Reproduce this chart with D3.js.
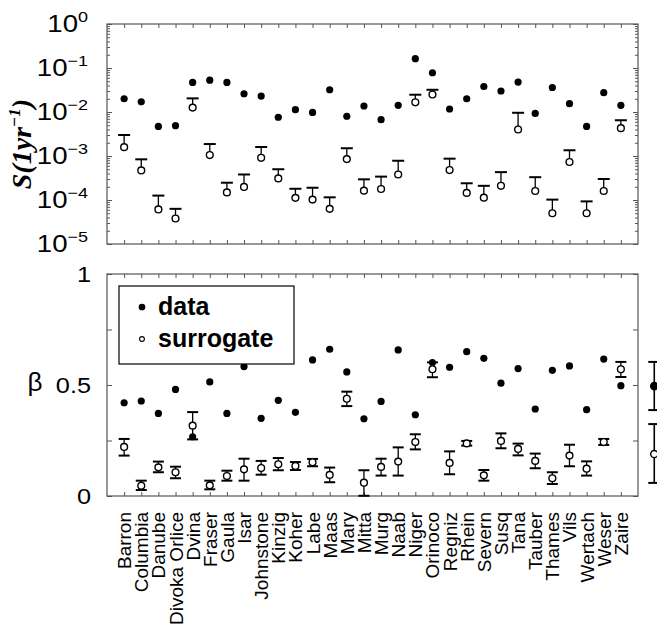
<!DOCTYPE html>
<html><head><meta charset="utf-8">
<script src="https://cdn.jsdelivr.net/npm/d3@7"></script>
<style>body{margin:0;background:#fff}svg{display:block}</style>
</head><body>
<script>
// ---------- data ----------
const rivers = ["Barron","Columbia","Danube","Divoka Orlice","Dvina","Fraser","Gaula","Isar","Johnstone","Kinzig","Koher","Labe","Maas","Mary","Mitta","Murg","Naab","Niger","Orinoco","Regniz","Rhein","Severn","Susq","Tana","Tauber","Thames","Vils","Wertach","Weser","Zaire"];
const sData = [0.020,0.017,0.0047,0.0049,0.047,0.053,0.047,0.026,0.023,0.0076,0.0113,0.0098,0.032,0.0080,0.0137,0.0067,0.0142,0.163,0.078,0.0117,0.020,0.038,0.030,0.048,0.0093,0.036,0.0155,0.0047,0.0275,0.0142];
const sSurr = [0.00159,0.00047,6.1e-5,3.8e-5,0.0126,0.00105,1.49e-4,1.98e-4,9.1e-4,3.1e-4,1.12e-4,1.02e-4,6.3e-5,8.5e-4,1.63e-4,1.78e-4,3.8e-4,0.0166,0.025,4.8e-4,1.45e-4,1.13e-4,2.1e-4,0.0040,1.6e-4,5.0e-5,7.3e-4,5.0e-5,1.6e-4,0.0043];
const sSurrUpper = [0.0030,0.00084,1.26e-4,6.3e-5,0.0204,0.00187,2.47e-4,3.8e-4,1.6e-3,5.0e-4,1.8e-4,1.9e-4,1.15e-4,1.5e-3,2.95e-4,3.4e-4,7.8e-4,0.0247,0.032,8.7e-4,2.4e-4,2.1e-4,4.3e-4,0.0096,3.3e-4,1.02e-4,1.35e-3,9.3e-5,3.0e-4,0.0065];
const betaData = [0.420,0.428,0.372,0.480,0.267,0.514,0.372,0.583,0.350,0.431,0.377,0.613,0.661,0.559,0.348,0.426,0.658,0.366,0.601,0.580,0.650,0.620,0.508,0.574,0.392,0.566,0.586,0.389,0.617,0.497];
const betaSurr = [0.221,0.046,0.129,0.107,0.317,0.048,0.090,0.120,0.126,0.143,0.135,0.152,0.095,0.438,0.060,0.131,0.155,0.243,0.571,0.149,0.237,0.093,0.248,0.212,0.158,0.080,0.182,0.123,0.243,0.571];
const betaSurrLow = [0.182,0.027,0.107,0.080,0.255,0.030,0.069,0.069,0.096,0.116,0.117,0.134,0.062,0.405,0.001,0.092,0.092,0.210,0.535,0.098,0.227,0.069,0.215,0.183,0.125,0.054,0.134,0.092,0.230,0.536];
const betaSurrHigh = [0.257,0.069,0.155,0.132,0.378,0.069,0.114,0.168,0.158,0.171,0.153,0.167,0.128,0.470,0.116,0.168,0.219,0.278,0.602,0.201,0.248,0.117,0.282,0.236,0.191,0.107,0.231,0.156,0.257,0.604];
const meanBeta = [{kind:"data", v:0.495, lo:0.387, hi:0.604},{kind:"surrogate", v:0.189, lo:0.059, hi:0.324}];
const sTickExps = [0,-1,-2,-3,-4,-5];
const betaTicks = [0,0.25,0.5,0.75,1];
const betaTickLabels = ["0","","0.5","","1"];
const legendLabels = ["data","surrogate"];

// ---------- layout ----------
const W = 657, H = 626;
const L = 107, R = 638;
const topT = 24, topB = 244, botT = 274, botB = 496;
const frameColor = "#555";

const svg = d3.select("body").append("svg").attr("width", W).attr("height", H)
  .style("font-family", "'Liberation Sans', Arial, sans-serif");

const x = d3.scaleLinear().domain([0, 31]).range([L, R]);
const yS = d3.scaleLog().domain([1e-5, 1]).range([topB, topT]);
const yB = d3.scaleLinear().domain([0, 1]).range([botB, botT]);
const idx = d3.range(1, 31);

function styleAxis(g){
  g.select(".domain").remove();
  g.selectAll(".tick line").attr("stroke", frameColor).attr("stroke-width", 1);
  g.selectAll(".tick text").remove();
}

// ---------- top panel ----------
const gTop = svg.append("g");
gTop.append("g").attr("transform", `translate(0,${topT})`).call(d3.axisTop(x).tickValues(idx).tickSize(-4).tickFormat("")).call(styleAxis);
gTop.append("g").attr("transform", `translate(0,${topB})`).call(d3.axisBottom(x).tickValues(idx).tickSize(-4).tickFormat("")).call(styleAxis);
const decades = sTickExps.map(e => Math.pow(10, e));
const minors = [];
for (let e = -5; e < 0; e++) for (let m = 2; m <= 9; m++) minors.push(m * Math.pow(10, e));
[[d3.axisLeft, L],[d3.axisRight, R]].forEach(([ax, px]) => {
  gTop.append("g").attr("transform", `translate(${px},0)`).call(ax(yS).tickValues(decades).tickSize(-5).tickFormat("")).call(styleAxis);
  gTop.append("g").attr("transform", `translate(${px},0)`).call(ax(yS).tickValues(minors).tickSize(-3).tickFormat("")).call(styleAxis);
});
gTop.append("rect").attr("x", L).attr("y", topT).attr("width", R - L).attr("height", topB - topT)
  .attr("fill", "none").attr("stroke", frameColor).attr("stroke-width", 1.2);

// y tick labels (10^n)
sTickExps.forEach(e => {
  const t = gTop.append("text").attr("x", 0).attr("y", 0)
    .attr("transform", `translate(88,${yS(Math.pow(10, e)) + 8}) scale(1.2,1)`)
    .attr("text-anchor", "end").attr("font-size", 23).attr("fill", "#000");
  t.append("tspan").text("10");
  t.append("tspan").attr("dy", -10).attr("font-size", 15).text(e === 0 ? "0" : "\u2212" + Math.abs(e));
});

// y label
const yl = svg.append("text").attr("transform", `translate(31,144) rotate(-90)`)
  .attr("text-anchor", "middle").attr("font-family", "'Liberation Serif', 'Times New Roman', serif")
  .attr("font-weight", "bold").attr("font-style", "italic").attr("font-size", 28).attr("fill", "#000");
yl.append("tspan").text("S(1yr");
yl.append("tspan").attr("dy", -11).attr("font-size", 17).text("\u22121");
yl.append("tspan").attr("dy", 11).text(")");

// surrogate error bars (upper only)
const capW = 12;
gTop.append("g").selectAll("line.stem").data(idx).join("line")
  .attr("x1", i => x(i)).attr("x2", i => x(i))
  .attr("y1", i => yS(sSurr[i-1])).attr("y2", i => yS(sSurrUpper[i-1]))
  .attr("stroke", "#000").attr("stroke-width", 1.3);
gTop.append("g").selectAll("line.cap").data(idx).join("line")
  .attr("x1", i => x(i) - capW/2).attr("x2", i => x(i) + capW/2)
  .attr("y1", i => yS(sSurrUpper[i-1])).attr("y2", i => yS(sSurrUpper[i-1]))
  .attr("stroke", "#000").attr("stroke-width", 2);
gTop.append("g").selectAll("circle").data(idx).join("circle")
  .attr("cx", i => x(i)).attr("cy", i => yS(sSurr[i-1])).attr("r", 3.4)
  .attr("fill", "#fff").attr("stroke", "#000").attr("stroke-width", 1.4);
gTop.append("g").selectAll("circle").data(idx).join("circle")
  .attr("cx", i => x(i)).attr("cy", i => yS(sData[i-1])).attr("r", 3.6).attr("fill", "#000");

// ---------- bottom panel ----------
const gBot = svg.append("g");
gBot.append("g").attr("transform", `translate(0,${botT})`).call(d3.axisTop(x).tickValues(idx).tickSize(-4).tickFormat("")).call(styleAxis);
gBot.append("g").attr("transform", `translate(0,${botB})`).call(d3.axisBottom(x).tickValues(idx).tickSize(-4).tickFormat("")).call(styleAxis);
gBot.append("g").attr("transform", `translate(${L},0)`).call(d3.axisLeft(yB).tickValues(betaTicks).tickSize(-5).tickFormat("")).call(styleAxis);
gBot.append("g").attr("transform", `translate(${R},0)`).call(d3.axisRight(yB).tickValues(betaTicks).tickSize(-5).tickFormat("")).call(styleAxis);
gBot.append("rect").attr("x", L).attr("y", botT).attr("width", R - L).attr("height", botB - botT)
  .attr("fill", "none").attr("stroke", frameColor).attr("stroke-width", 1.2);

betaTicks.forEach((v, k) => {
  if (!betaTickLabels[k]) return;
  gBot.append("text").attr("transform", `translate(91,${yB(v) + 8}) scale(1.15,1)`)
    .attr("text-anchor", "end").attr("font-size", 22).attr("fill", "#000").text(betaTickLabels[k]);
});
svg.append("text").attr("x", 35).attr("y", yB(0.5) + 6).attr("text-anchor", "middle")
  .attr("font-size", 26).attr("fill", "#000").text("\u03B2");

// x labels
gBot.append("g").selectAll("text").data(idx).join("text")
  .attr("transform", i => `translate(${x(i) + 7},512) rotate(-90)`)
  .attr("text-anchor", "end").attr("font-size", 19).attr("fill", "#000")
  .text(i => rivers[i-1]);

const capB = 11;
function errBar(g, cx, lo, hi){
  g.append("line").attr("x1", cx).attr("x2", cx).attr("y1", yB(lo)).attr("y2", yB(hi)).attr("stroke", "#000").attr("stroke-width", 1.3);
  [lo, hi].forEach(v => g.append("line").attr("x1", cx - capB/2).attr("x2", cx + capB/2).attr("y1", yB(v)).attr("y2", yB(v)).attr("stroke", "#000").attr("stroke-width", 2));
}
const gErr = gBot.append("g");
idx.forEach(i => errBar(gErr, x(i), betaSurrLow[i-1], betaSurrHigh[i-1]));
gBot.append("g").selectAll("circle").data(idx).join("circle")
  .attr("cx", i => x(i)).attr("cy", i => yB(betaData[i-1])).attr("r", 3.6).attr("fill", "#000");
gBot.append("g").selectAll("circle").data(idx).join("circle")
  .attr("cx", i => x(i)).attr("cy", i => yB(betaSurr[i-1])).attr("r", 3.4)
  .attr("fill", "#fff").attr("stroke", "#000").attr("stroke-width", 1.4);

// mean markers outside the frame
const gMean = gBot.append("g");
meanBeta.forEach(m => {
  const cx = x(31.95);
  gMean.append("line").attr("x1", cx).attr("x2", cx).attr("y1", yB(m.lo)).attr("y2", yB(m.hi)).attr("stroke", "#000").attr("stroke-width", 1.6);
  [m.lo, m.hi].forEach(v => gMean.append("line").attr("x1", cx - 6).attr("x2", cx + 6).attr("y1", yB(v)).attr("y2", yB(v)).attr("stroke", "#000").attr("stroke-width", 2));
  gMean.append("circle").attr("cx", cx).attr("cy", yB(m.v)).attr("r", 3.6)
    .attr("fill", m.kind === "data" ? "#000" : "#fff").attr("stroke", "#000").attr("stroke-width", 1.4);
});

// legend
const lg = gBot.append("g");
lg.append("rect").attr("x", 119).attr("y", 286).attr("width", 175).attr("height", 78)
  .attr("fill", "#fff").attr("stroke", "#000").attr("stroke-width", 1.2);
legendLabels.forEach((lab, k) => {
  const cy = 307 + k * 32;
  lg.append("circle").attr("cx", 142).attr("cy", cy).attr("r", k === 0 ? 2.8 : 2.4)
    .attr("fill", k === 0 ? "#000" : "#fff").attr("stroke", "#000").attr("stroke-width", 1.1);
  lg.append("text").attr("x", 158).attr("y", cy + 8).attr("font-size", 25).attr("font-weight", "bold")
    .attr("fill", "#000").text(lab);
});
</script>
</body></html>
